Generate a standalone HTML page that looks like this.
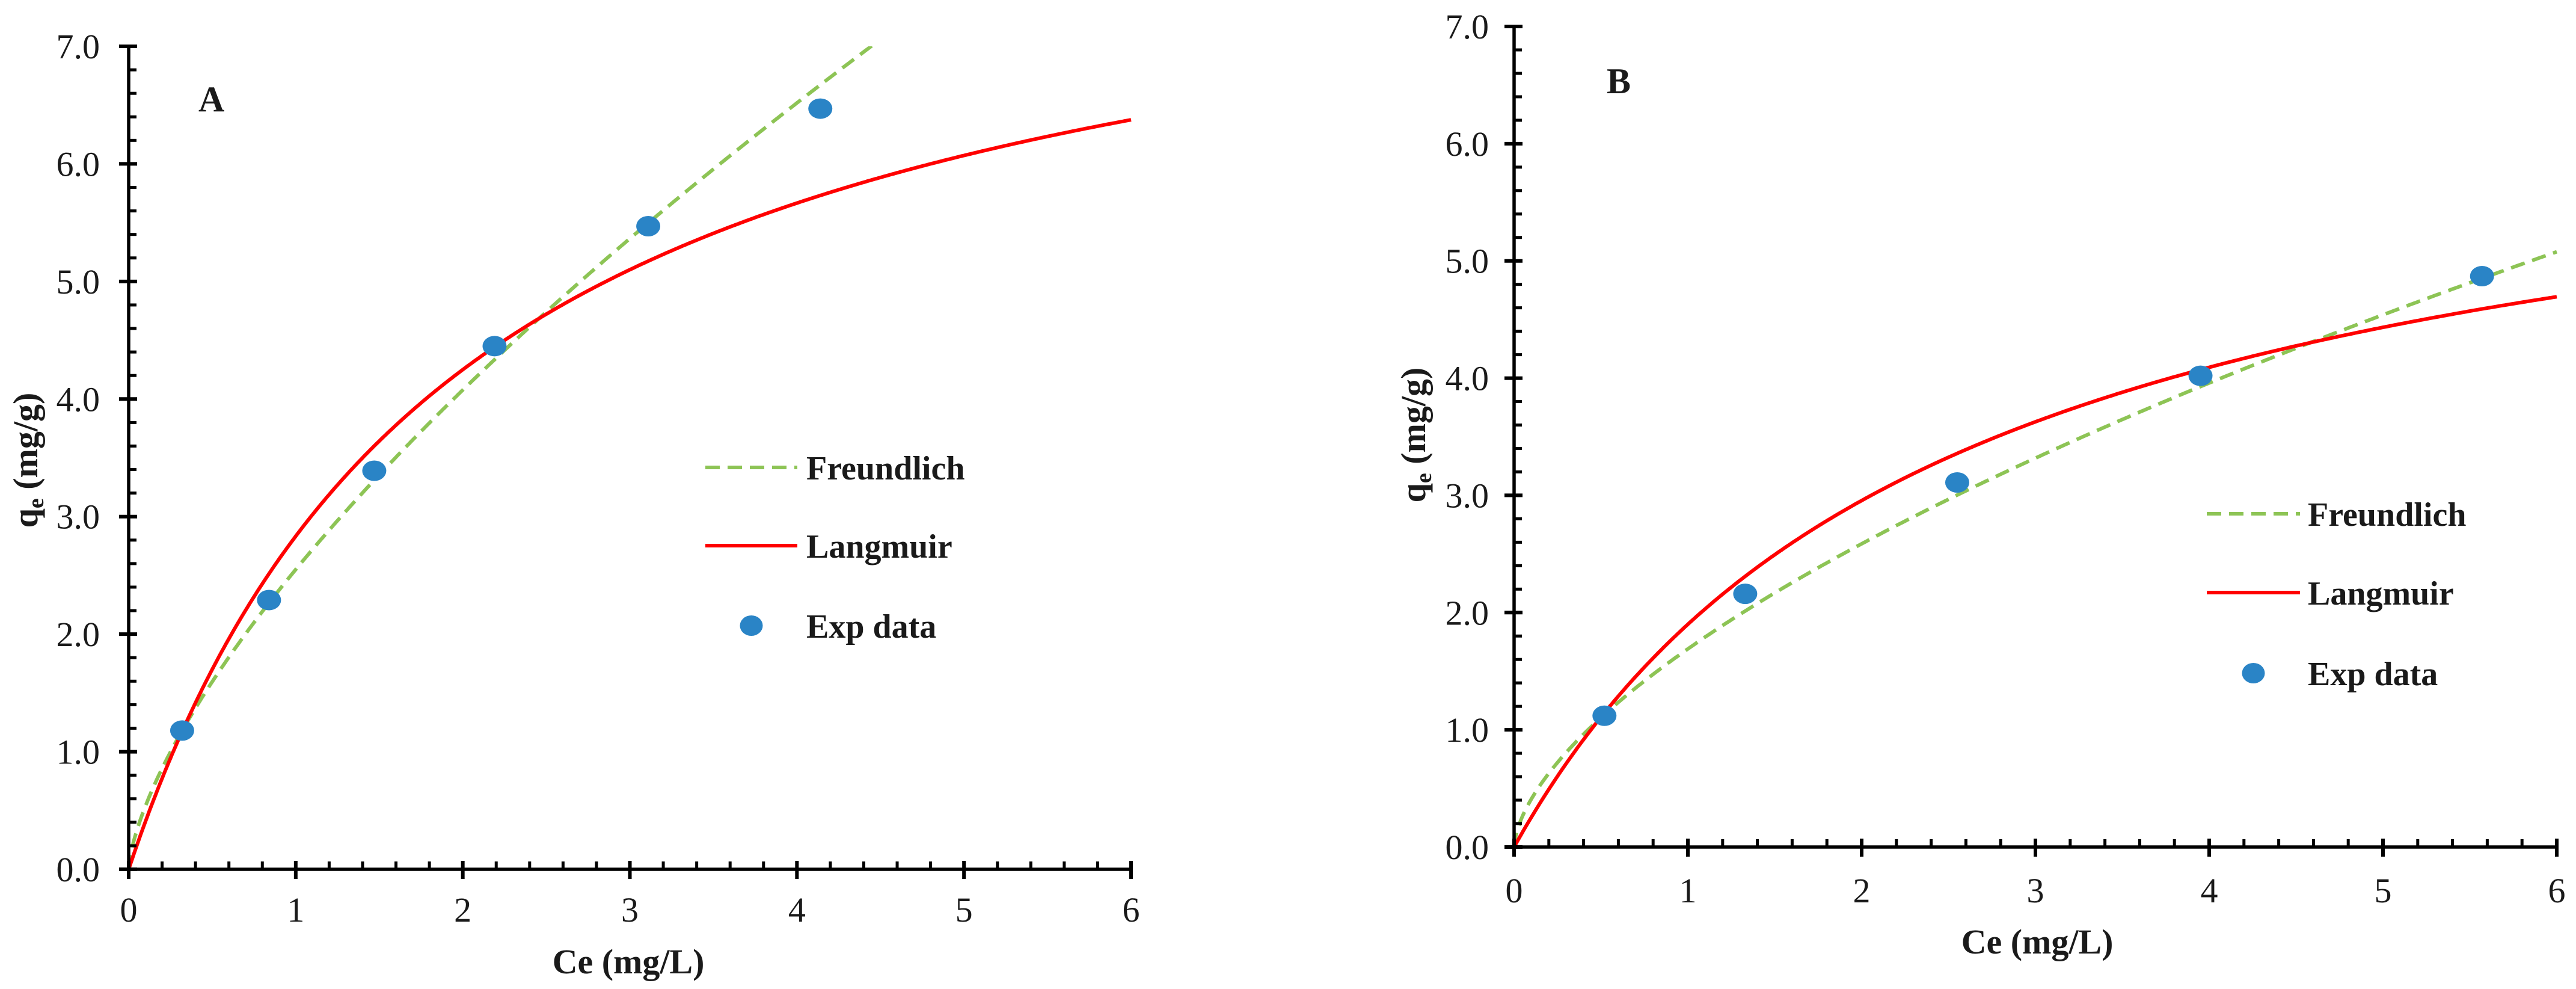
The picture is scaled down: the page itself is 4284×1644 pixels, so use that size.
<!DOCTYPE html>
<html><head><meta charset="utf-8"><style>
html,body{margin:0;padding:0;background:#fff;}
svg{display:block;}
text{font-family:"Liberation Serif",serif;fill:#1a1a1a;}
</style></head><body>
<svg id="chart" width="4284" height="1644" viewBox="0 0 4284 1644" xmlns="http://www.w3.org/2000/svg"></svg>
<script>
// ---- data ----
const xTicks = [0,1,2,3,4,5,6];
const yTicks = [0,1,2,3,4,5,6,7];
const yTickLabels = ["0.0","1.0","2.0","3.0","4.0","5.0","6.0","7.0"];
const expA_x = [0.32,0.84,1.47,2.19,3.11,4.14];
const expA_y = [1.18,2.29,3.39,4.45,5.47,6.47];
const expB_x = [0.52,1.33,2.55,3.95,5.57];
const expB_y = [1.12,2.16,3.11,4.02,4.87];
// model parameters: Freundlich [K, 1/n], Langmuir [Qm, KL]
const freundA = [2.55,0.677];
const langA = [8.5,0.5];
const freundB = [1.69,0.614];
const langB = [6.65,0.4];
const legendLabels = ["Freundlich","Langmuir","Exp data"];

const NS="http://www.w3.org/2000/svg";
const svg=document.getElementById('chart');
function mk(tag,attrs,parent){const e=document.createElementNS(NS,tag);for(const k in attrs)e.setAttribute(k,attrs[k]);(parent||svg).appendChild(e);return e;}

function panel(cfg){
  const g=mk('g',{});
  
  
  const X=v=>cfg.x0+(cfg.x6-cfg.x0)*v/6;
  const Y=v=>cfg.y0-(cfg.y0-cfg.y7)*v/7;
  const cid='clip'+cfg.id;
  const cp=mk('clipPath',{id:cid},g);
  mk('rect',{x:X(0),y:Y(7),width:X(6)-X(0)+4,height:Y(0)-Y(7)},cp);
  const pts=(f)=>{let s='';for(let i=0;i<=600;i++){const c=6*i/600;s+=(i?'L':'M')+X(c).toFixed(1)+','+Y(f(c)).toFixed(1);}return s;};
  const fr=mk('path',{d:pts(c=>cfg.fr[0]*Math.pow(c,cfg.fr[1])),fill:'none',stroke:'#8DC455','stroke-width':6,'stroke-dasharray':'24,13','clip-path':'url(#'+cid+')'},g);
  
  
  const la=mk('path',{d:pts(c=>cfg.la[0]*cfg.la[1]*c/(1+cfg.la[1]*c)),fill:'none',stroke:'#FF0000','stroke-width':6,'clip-path':'url(#'+cid+')'},g);
  
  
  cfg.ex.forEach((xv,i)=>{
    const p=mk('ellipse',{cx:X(xv),cy:Y(cfg.ey[i]),rx:20,ry:17,fill:'#2A84C6'},g);
    
    
  });
  const ax=mk('g',{stroke:'#000','stroke-width':5.5},g);
  
  
  mk('line',{x1:X(0),y1:Y(0)+2,x2:X(0),y2:Y(7)},ax);
  mk('line',{x1:X(0)-2,y1:Y(0),x2:X(6)+2,y2:Y(0)},ax);
  for(let i=0;i<=35;i++){const v=i*0.2;const y=Y(v);
    if(i%5===0) mk('line',{x1:X(0)-16,y1:y,x2:X(0)+14,y2:y,'stroke-width':6},ax);
    else mk('line',{x1:X(0),y1:y,x2:X(0)+13,y2:y,'stroke-width':5},ax);}
  for(let i=0;i<=30;i++){const v=i*0.2;const x=X(v);
    if(i%5===0) mk('line',{x1:x,y1:Y(0)+16,x2:x,y2:Y(0)-14,'stroke-width':6},ax);
    else mk('line',{x1:x,y1:Y(0),x2:x,y2:Y(0)-13,'stroke-width':5},ax);}
  yTicks.forEach((v,i)=>{
    const t=mk('text',{x:X(0)-cfg.ylGap,y:Y(v)+20,'text-anchor':'end','font-size':58},g);
    t.textContent=yTickLabels[i];
    
    
  });
  xTicks.forEach(v=>{
    const t=mk('text',{x:X(v),y:cfg.xlBase,'text-anchor':'middle','font-size':58},g);
    t.textContent=String(v);
    
    
  });
  const xt=mk('text',{x:cfg.xtX,y:cfg.xtY,'text-anchor':'middle','font-size':58,'font-weight':'bold'},g);
  xt.textContent='Ce (mg/L)';
  
  
  const yt=mk('text',{x:0,y:0,'text-anchor':'middle','font-size':58,'font-weight':'bold',transform:'translate('+cfg.ytX+','+cfg.ytY+') rotate(-90)'},g);
  yt.innerHTML='q<tspan font-size="38" dy="10">e</tspan><tspan dy="-10"> (mg/g)</tspan>';
  
  
  const pl=mk('text',{x:cfg.plX,y:cfg.plY,'font-size':60,'font-weight':'bold'},g);
  pl.textContent=cfg.id;
  
  
  const lg=mk('g',{},g);
  
  
  const L=cfg.leg;
  mk('line',{x1:L.x1,y1:L.ys[0],x2:L.x2,y2:L.ys[0],stroke:'#8DC455','stroke-width':6,'stroke-dasharray':'24,13'},lg);
  mk('line',{x1:L.x1,y1:L.ys[1],x2:L.x2,y2:L.ys[1],stroke:'#FF0000','stroke-width':6},lg);
  mk('ellipse',{cx:(L.x1+L.x2)/2,cy:L.ys[2],rx:19,ry:17,fill:'#2A84C6'},lg);
  legendLabels.forEach((s,i)=>{
    const t=mk('text',{x:L.tx,y:L.ys[i]+20,'font-size':56,'font-weight':'bold'},lg);
    t.textContent=s;
    
    
  });
}

panel({id:'A',name:'panel-a',x0:214,x6:1881,y0:1445,y7:77,fr:freundA,la:langA,ex:expA_x,ey:expA_y,
  ylGap:48,xlBase:1532,xtX:1045,xtY:1618,ytX:62,ytY:765,plX:330,plY:185,
  leg:{x1:1173,x2:1326,tx:1341,ys:[777,907,1040]}});
panel({id:'B',name:'panel-b',x0:2518,x6:4252,y0:1408,y7:44,fr:freundB,la:langB,ex:expB_x,ey:expB_y,
  ylGap:42,xlBase:1500,xtX:3388,xtY:1585,ytX:2370,ytY:723,plX:2672,plY:155,
  leg:{x1:3670,x2:3825,tx:3838,ys:[854,985,1119]}});
</script>
</body></html>
